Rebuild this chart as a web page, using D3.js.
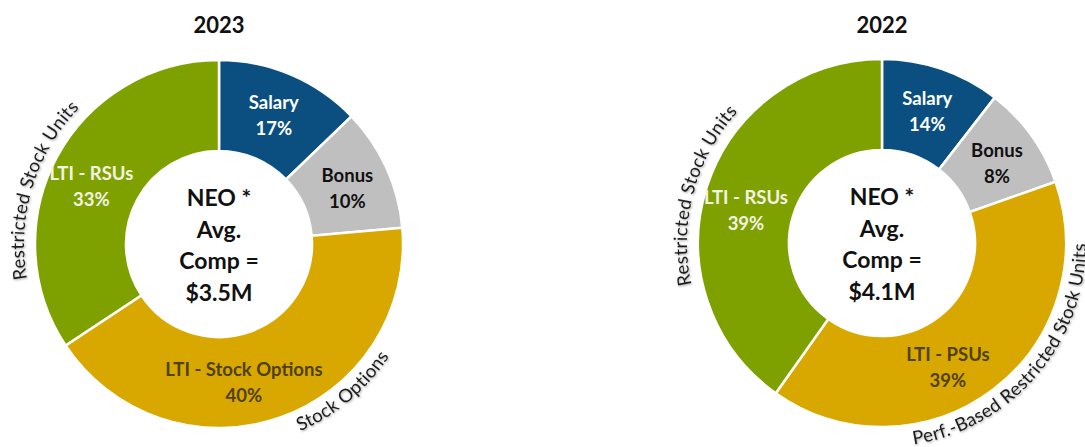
<!DOCTYPE html>
<html>
<head>
<meta charset="utf-8">
<script src="https://cdn.jsdelivr.net/npm/d3@7"></script>
<style>
  body { margin: 0; background: #fff; }
  svg { font-family: Lato, 'Noto Sans', sans-serif; }
  .title { font-size: 22px; font-weight: bold; fill: #111; }
  .centre { font-size: 23px; font-weight: bold; fill: #111; }
  .slice-label { font-size: 18.5px; font-weight: bold; }
  .note { font-size: 18.5px; fill: #1e1e1e; letter-spacing: 0.3px; }
</style>
</head>
<body>
<svg></svg>
<script>
// slice shares as drawn (angles), printed labels kept apart
const categories2023 = ['Salary', 'Bonus', 'LTI - Stock Options', 'LTI - RSUs'];
const shares2023 = [12.8, 10.8, 42.1, 34.3];
const printed2023 = ['17%', '10%', '40%', '33%'];
const centre2023 = ['NEO *', 'Avg.', 'Comp =', '$3.5M'];

const categories2022 = ['Salary', 'Bonus', 'LTI - PSUs', 'LTI - RSUs'];
const shares2022 = [10.5, 9.1, 40.2, 40.2];
const printed2022 = ['14%', '8%', '39%', '39%'];
const centre2022 = ['NEO *', 'Avg.', 'Comp =', '$4.1M'];

const svg = d3.select('svg')
	.attr('width', 1085)
	.attr('height', 447);

const outerR = 184,
	innerR = 93;

const kinds = ['Salary', 'Bonus', 'LTI - Stock Options', 'LTI - PSUs', 'LTI - RSUs'];
const fill = d3.scaleOrdinal()
	.domain(kinds)
	.range(['#0b4f80', '#bfbfbf', '#d9a800', '#d9a800', '#7fa100']);
const ink = d3.scaleOrdinal()
	.domain(kinds)
	.range(['#ffffff', '#111111', '#4f410c', '#4f410c', '#f3f3e4']);
// labels in the big slices sit a little off the middle of the slice
const labelTurn = d3.scaleOrdinal()
	.domain(kinds)
	.range([0, 1, 9, 9, -4]);

const pie = d3.pie().sort(null).value(d => d.share);
const arc = d3.arc().innerRadius(innerR).outerRadius(outerR);

const defs = svg.append('defs');
defs.append('filter')
	.attr('id', 'shadow')
	.attr('x', '-10%').attr('y', '-10%').attr('width', '120%').attr('height', '120%')
  .append('feDropShadow')
	.attr('dx', 1).attr('dy', 1)
	.attr('stdDeviation', 0.8)
	.attr('flood-color', '#000')
	.attr('flood-opacity', 0.35);

const rad = a => a * Math.PI / 180;
const pt = (r, a) => [r * Math.sin(rad(a)), -r * Math.cos(rad(a))];

// arc path for curved text; cw faces outward, ccw faces the centre
function notePath(r, a0, a1, cw) {
	const p0 = pt(r, a0), p1 = pt(r, a1);
	return `M${p0[0]},${p0[1]} A${r},${r} 0 0 ${cw ? 1 : 0} ${p1[0]},${p1[1]}`;
}

function labelPos(d) {
	const mid = (d.startAngle + d.endAngle) / 2 * 180 / Math.PI + labelTurn(d.data.cat);
	return pt(140, mid);
}

function drawDonut(id, cx, cy, year, cats, shares, printed, centre, notes) {
	const data = cats.map((c, i) => ({ cat: c, share: shares[i], pct: printed[i] }));
	const g = svg.append('g')
		.attr('transform', `translate(${cx}, ${cy})`);

	svg.append('text')
		.attr('class', 'title')
		.attr('x', cx)
		.attr('y', 33)
		.attr('text-anchor', 'middle')
		.text(year);

	const slices = pie(data);

	g.selectAll('path.slice')
		.data(slices)
		.enter().append('path')
		.attr('class', 'slice')
		.attr('d', arc)
		.attr('fill', d => fill(d.data.cat))
		.attr('stroke', '#fff')
		.attr('stroke-width', 2.5);

	const labels = g.selectAll('text.slice-label')
		.data(slices)
		.enter().append('text')
		.attr('class', 'slice-label')
		.attr('text-anchor', 'middle')
		.attr('fill', d => ink(d.data.cat))
		.attr('transform', d => `translate(${labelPos(d)})`);
	labels.append('tspan')
		.attr('x', 0)
		.attr('y', -6)
		.text(d => d.data.cat);
	labels.append('tspan')
		.attr('x', 0)
		.attr('y', 20)
		.text(d => d.data.pct);

	g.selectAll('text.centre')
		.data(centre)
		.enter().append('text')
		.attr('class', 'centre')
		.attr('text-anchor', 'middle')
		.attr('y', (d, i) => -38 + i * 31.5)
		.text(d => d);

	notes.forEach((n, i) => {
		const pid = `${id}-note-${i}`;
		g.append('path')
			.attr('id', pid)
			.attr('fill', 'none')
			.attr('d', notePath(n.r, n.a0, n.a1, n.cw));
		g.append('text')
			.attr('class', 'note')
			.attr('filter', 'url(#shadow)')
		  .append('textPath')
			.attr('href', `#${pid}`)
			.attr('startOffset', n.anchor === 'start' ? '0%' : '50%')
			.attr('text-anchor', n.anchor)
			.text(n.text);
	});
}

drawDonut('y2023', 219, 244, '2023', categories2023, shares2023, printed2023, centre2023, [
	{ text: 'Restricted Stock Units', r: 195, a0: 227, a1: 347, cw: true, anchor: 'middle' },
	{ text: 'Stock Options', r: 204, a0: 200, a1: 80, cw: false, anchor: 'middle' }
]);

drawDonut('y2022', 882, 243, '2022', categories2022, shares2022, printed2022, centre2022, [
	{ text: 'Restricted Stock Units', r: 195, a0: 225, a1: 345, cw: true, anchor: 'middle' },
	{ text: 'Perf.-Based Restricted Stock Units', r: 204, a0: 171, a1: 40, cw: false, anchor: 'start' }
]);
</script>
</body>
</html>
